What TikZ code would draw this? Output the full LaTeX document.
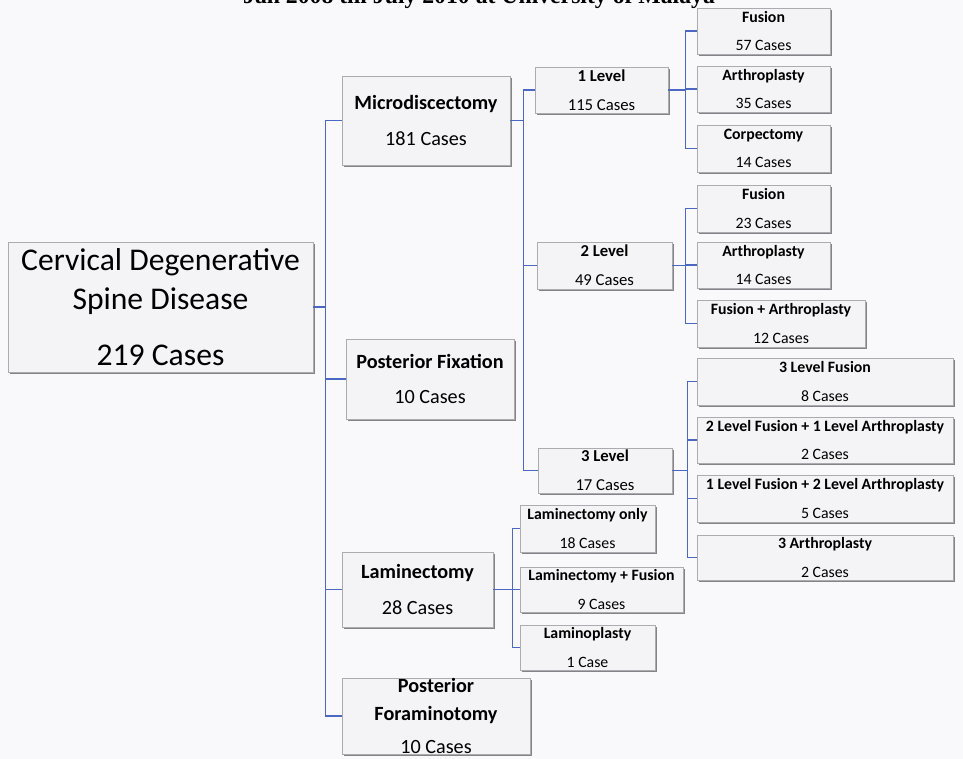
\documentclass[tikz,border=0pt]{standalone}
\usepackage{fontspec}
\setmainfont{Carlito}
\newfontfamily\headfont{Liberation Serif}
\usetikzlibrary{shadows}
\definecolor{linkblue}{RGB}{74,104,196}
\definecolor{boxfill}{RGB}{244,244,246}
\definecolor{boxgray}{RGB}{172,172,176}
\definecolor{shadowgray}{RGB}{120,120,124}
\definecolor{pagegray}{RGB}{249,249,251}
\def\px{0.02cm}

\begin{document}
\begin{tikzpicture}[x=0.02cm, y=-0.02cm,
		casebox/.style={draw=boxgray, fill=boxfill, inner sep=0pt, align=center,
			drop shadow={shadow xshift=1pt, shadow yshift=-1.3pt, fill=shadowgray, opacity=0.9}},
		rootbox/.style={casebox, font=\fontsize{18}{22}\selectfont},
		mainbox/.style={casebox, font=\fontsize{11.5}{14}\selectfont},
		levelbox/.style={casebox, font=\fontsize{9.5}{12}\selectfont},
		leafbox/.style={casebox, font=\fontsize{9}{11.5}\selectfont},
		link/.style={draw=linkblue, line width=0.9pt}]

		\fill [pagegray] (0,0) rectangle (963,759);
		\useasboundingbox (0,0) rectangle (963,759);

		% heading, cut by the page edge
		\node [font=\headfont\bfseries\fontsize{13.5}{15}\selectfont, anchor=base] (heading) at (479,4)
			{Jan 2008 till July 2010 at University of Malaya};

		% root
		\node [rootbox, minimum width=305*\px, minimum height=130*\px] (root) at (160.5,307)
			{Cervical Degenerative\\Spine Disease\\[10pt]219 Cases};

		% surgery types
		\node [mainbox, minimum width=168*\px, minimum height=89*\px] (micro) at (426,120.5)
			{\textbf{Microdiscectomy}\\[6pt]181 Cases};
		\node [mainbox, minimum width=168*\px, minimum height=80*\px] (postfix) at (430,379)
			{\textbf{Posterior Fixation}\\[6pt]10 Cases};
		\node [mainbox, minimum width=151*\px, minimum height=75*\px] (lamin) at (417.5,589.5)
			{\textbf{Laminectomy}\\[6pt]28 Cases};
		\node [mainbox, minimum width=188*\px, minimum height=74*\px] (foram) at (436,716)
			{\textbf{Posterior}\\[2pt]\textbf{Foraminotomy}\\[5pt]10 Cases};

		% levels
		\node [levelbox, minimum width=133*\px, minimum height=46*\px] (lvone) at (601.5,90)
			{\textbf{1 Level}\\[4.5pt]115 Cases};
		\node [levelbox, minimum width=135*\px, minimum height=47*\px] (lvtwo) at (604.5,265.5)
			{\textbf{2 Level}\\[4.5pt]49 Cases};
		\node [levelbox, minimum width=134*\px, minimum height=45*\px] (lvthree) at (605,470.5)
			{\textbf{3 Level}\\[4.5pt]17 Cases};

		% 1 level
		\node [leafbox, minimum width=133*\px, minimum height=46*\px] (fusone) at (763.5,31)
			{\textbf{Fusion}\\[4.5pt]57 Cases};
		\node [leafbox, minimum width=133*\px, minimum height=46*\px] (arthone) at (763.5,89)
			{\textbf{Arthroplasty}\\[4.5pt]35 Cases};
		\node [leafbox, minimum width=133*\px, minimum height=47*\px] (corpone) at (763.5,148.5)
			{\textbf{Corpectomy}\\[4.5pt]14 Cases};

		% 2 level
		\node [leafbox, minimum width=133*\px, minimum height=47*\px] (fustwo) at (763.5,208.5)
			{\textbf{Fusion}\\[4.5pt]23 Cases};
		\node [leafbox, minimum width=133*\px, minimum height=46*\px] (arthtwo) at (763.5,265)
			{\textbf{Arthroplasty}\\[4.5pt]14 Cases};
		\node [leafbox, minimum width=168*\px, minimum height=47*\px] (fusarthtwo) at (781,323.5)
			{\textbf{Fusion + Arthroplasty}\\[4.5pt]12 Cases};

		% 3 level
		\node [leafbox, minimum width=256*\px, minimum height=47*\px] (fusthree) at (825,381.5)
			{\textbf{3 Level Fusion}\\[4.5pt]8 Cases};
		\node [leafbox, minimum width=256*\px, minimum height=46*\px] (twofusone) at (825,440)
			{\textbf{2 Level Fusion + 1 Level Arthroplasty}\\[4.5pt]2 Cases};
		\node [leafbox, minimum width=256*\px, minimum height=47*\px] (onefustwo) at (825,498.5)
			{\textbf{1 Level Fusion + 2 Level Arthroplasty}\\[4.5pt]5 Cases};
		\node [leafbox, minimum width=256*\px, minimum height=45*\px] (arththree) at (825,557.5)
			{\textbf{3 Arthroplasty}\\[4.5pt]2 Cases};

		% laminectomy
		\node [leafbox, minimum width=135*\px, minimum height=47*\px] (lamonly) at (587.5,528.5)
			{\textbf{Laminectomy only}\\[4.5pt]18 Cases};
		\node [leafbox, minimum width=163*\px, minimum height=45*\px] (lamfus) at (601.5,589.5)
			{\textbf{Laminectomy + Fusion}\\[4.5pt]9 Cases};
		\node [leafbox, minimum width=135*\px, minimum height=45*\px] (lamplasty) at (587.5,647.5)
			{\textbf{Laminoplasty}\\[4.5pt]1 Case};

		% connectors
		\draw [link] (root.east) -- ++(12,0) coordinate (rootbus);
		\draw [link] (rootbus) |- (micro.west);
		\draw [link] (rootbus) |- (postfix.west);
		\draw [link] (rootbus) |- (lamin.west);
		\draw [link] (rootbus) |- (foram.west);

		\draw [link] (micro.east) -- ++(13,0) coordinate (microbus);
		\draw [link] (microbus) |- (lvone.west);
		\draw [link] (microbus) |- (lvtwo.west);
		\draw [link] (microbus) |- (lvthree.west);

		\draw [link] (lvone.east) -- ++(17,0) coordinate (onebus);
		\draw [link] (onebus) |- (fusone.west);
		\draw [link] (onebus) |- (arthone.west);
		\draw [link] (onebus) |- (corpone.west);

		\draw [link] (lvtwo.east) -- ++(13,0) coordinate (twobus);
		\draw [link] (twobus) |- (fustwo.west);
		\draw [link] (twobus) |- (arthtwo.west);
		\draw [link] (twobus) |- (fusarthtwo.west);

		\draw [link] (lvthree.east) -- ++(15,0) coordinate (threebus);
		\draw [link] (threebus) |- (fusthree.west);
		\draw [link] (threebus) |- (twofusone.west);
		\draw [link] (threebus) |- (onefustwo.west);
		\draw [link] (threebus) |- (arththree.west);

		\draw [link] (lamin.east) -- ++(19,0) coordinate (laminbus);
		\draw [link] (laminbus) |- (lamonly.west);
		\draw [link] (laminbus) |- (lamfus.west);
		\draw [link] (laminbus) |- (lamplasty.west);
	\end{tikzpicture}
\end{document}
